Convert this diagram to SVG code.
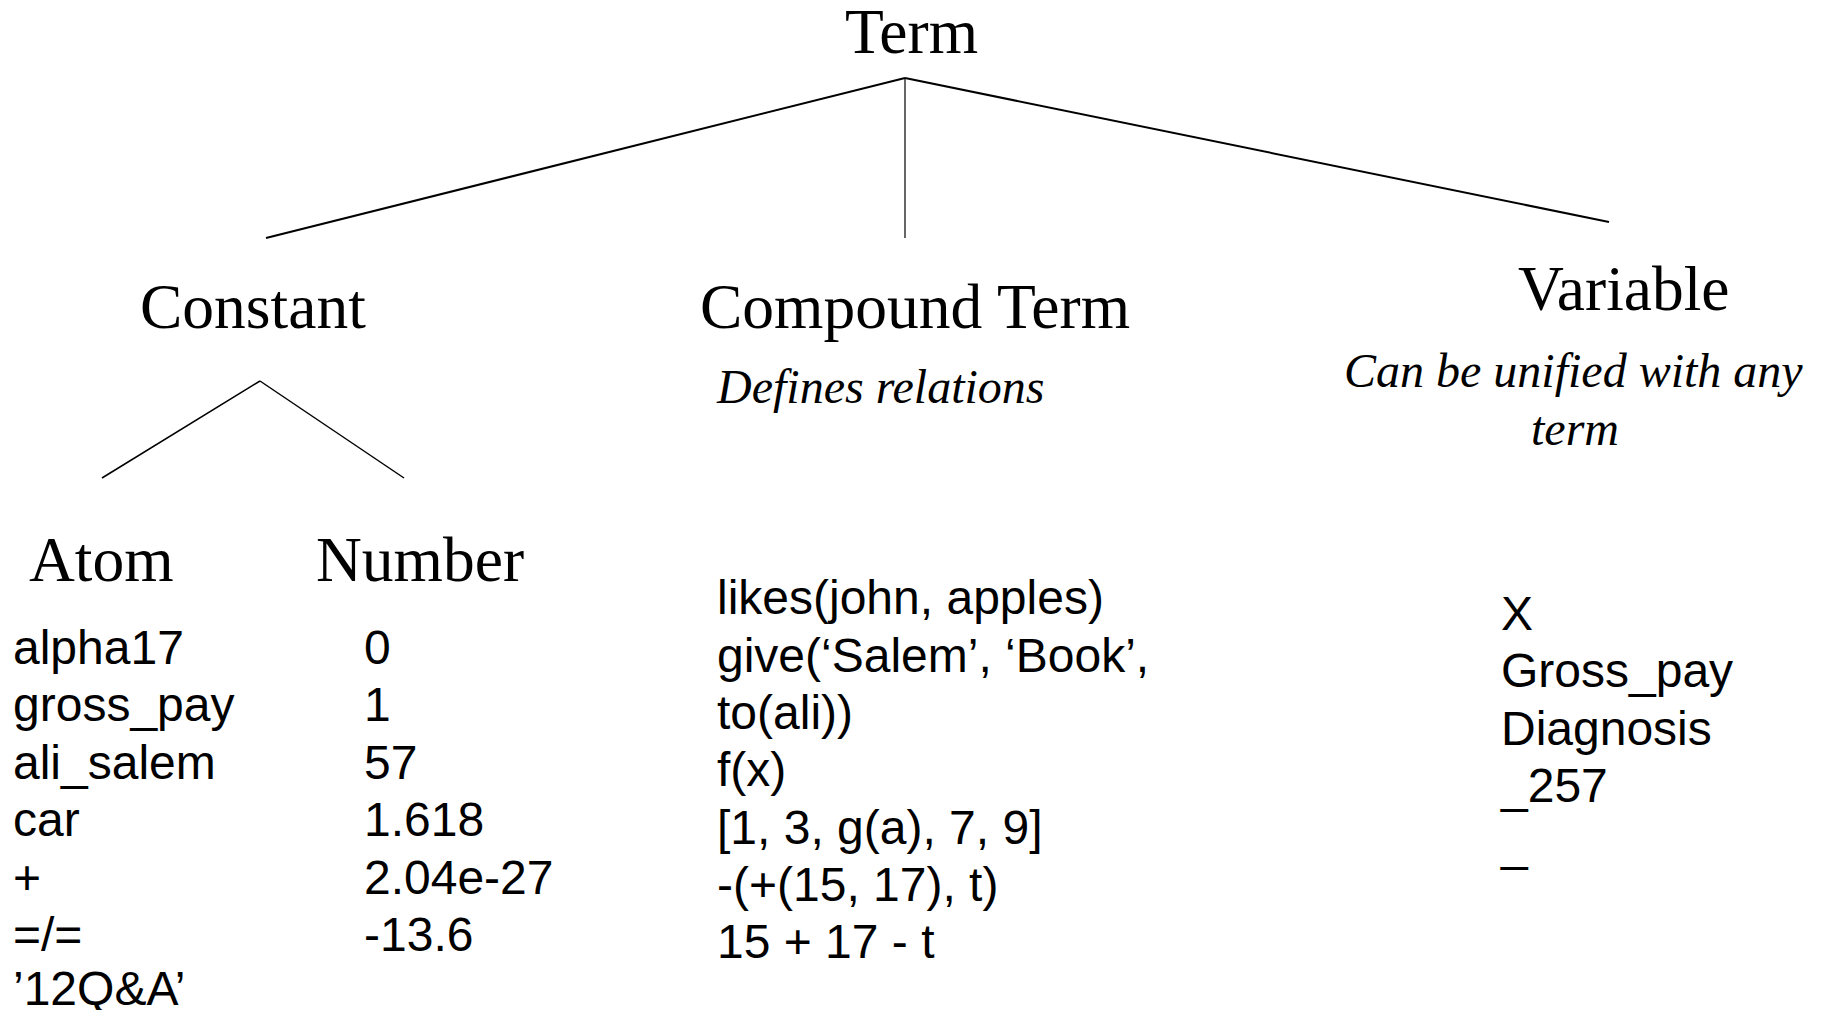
<svg xmlns="http://www.w3.org/2000/svg" width="1823" height="1010" viewBox="0 0 1823 1010">
  <style>
    .head { font-family: "Liberation Serif", "Times New Roman", serif; font-size: 63.5px; fill: #000; }
    .note { font-family: "Liberation Serif", "Times New Roman", serif; font-size: 48px; font-style: italic; fill: #000; }
    .item { font-family: "Liberation Sans", Arial, sans-serif; font-size: 48px; fill: #000; }
    .edge { stroke: #000; fill: none; }
  </style>
  <rect width="1823" height="1010" fill="#fff"/>

  <!-- tree edges -->
  <g id="connectors">
    <line class="edge" x1="905" y1="78" x2="266" y2="238" stroke-width="2"/>
    <line class="edge" x1="905" y1="78" x2="905" y2="238" stroke-width="1.2"/>
    <line class="edge" x1="905" y1="78" x2="1609" y2="222" stroke-width="2"/>
    <line class="edge" x1="260" y1="381" x2="102" y2="478" stroke-width="1.5"/>
    <line class="edge" x1="260" y1="381" x2="404" y2="478" stroke-width="1.5"/>
  </g>

  <g id="term">
    <text class="head" x="845" y="53">Term</text>
  </g>

  <g id="constant">
    <text class="head" x="140" y="328">Constant</text>
  </g>

  <g id="compound">
    <text class="head" x="700" y="328">Compound Term</text>
    <text class="note" x="717" y="403">Defines relations</text>
    <text class="item" x="717" y="614">likes(john, apples)</text>
    <text class="item" x="717" y="672">give(‘Salem’, ‘Book’,</text>
    <text class="item" x="717" y="729">to(ali))</text>
    <text class="item" x="717" y="786">f(x)</text>
    <text class="item" x="717" y="844">[1, 3, g(a), 7, 9]</text>
    <text class="item" x="717" y="901">-(+(15, 17), t)</text>
    <text class="item" x="717" y="958">15 + 17 - t</text>
  </g>

  <g id="variable">
    <text class="head" x="1518" y="310">Variable</text>
    <text class="note" x="1344" y="387">Can be unified with any</text>
    <text class="note" x="1575" y="445" text-anchor="middle">term</text>
    <text class="item" x="1501" y="630">X</text>
    <text class="item" x="1501" y="687">Gross_pay</text>
    <text class="item" x="1501" y="745">Diagnosis</text>
    <text class="item" x="1501" y="802">_257</text>
    <text class="item" x="1501" y="860">_</text>
  </g>

  <g id="atom">
    <text class="head" x="29" y="581">Atom</text>
    <text class="item" x="13" y="664">alpha17</text>
    <text class="item" x="13" y="721">gross_pay</text>
    <text class="item" x="13" y="779">ali_salem</text>
    <text class="item" x="13" y="836">car</text>
    <text class="item" x="13" y="894">+</text>
    <text class="item" x="13" y="951">=/=</text>
    <text class="item" x="13" y="1005">’12Q&amp;A’</text>
  </g>

  <g id="number">
    <text class="head" x="316" y="581">Number</text>
    <text class="item" x="364" y="664">0</text>
    <text class="item" x="364" y="721">1</text>
    <text class="item" x="364" y="779">57</text>
    <text class="item" x="364" y="836">1.618</text>
    <text class="item" x="364" y="894">2.04e-27</text>
    <text class="item" x="364" y="951">-13.6</text>
  </g>
</svg>
